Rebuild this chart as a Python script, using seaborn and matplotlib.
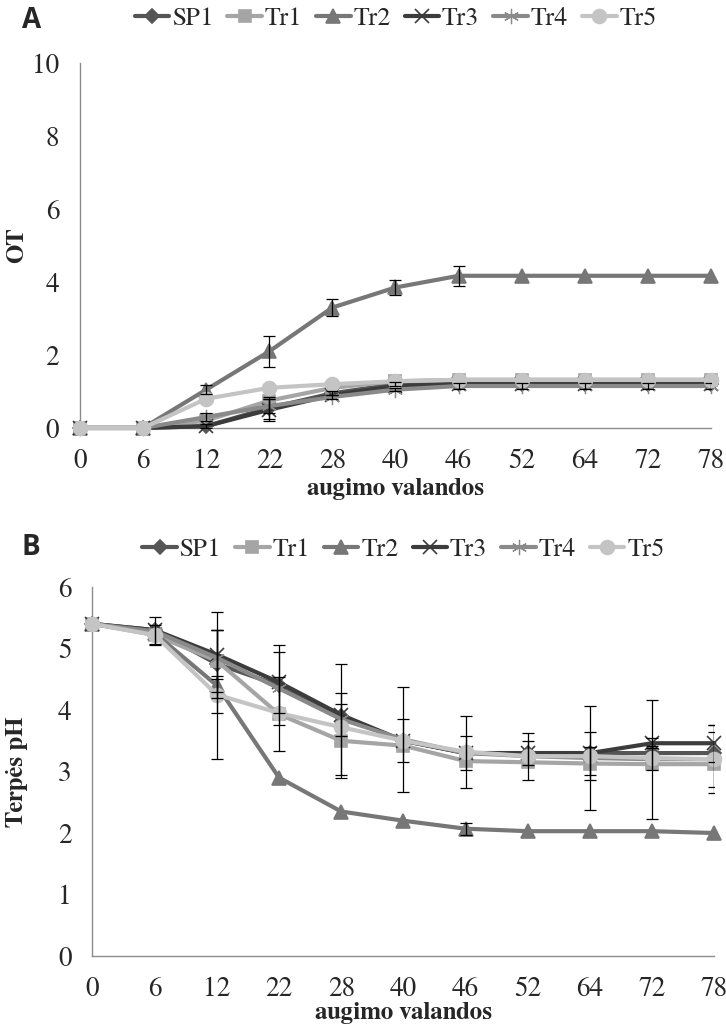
import numpy as np
import pandas as pd
import matplotlib
matplotlib.use("Agg")
import matplotlib.pyplot as plt
import seaborn as sns

# Sampling times (hours) shown as evenly spaced categories
hours = ["0", "6", "12", "22", "28", "40", "46", "52", "64", "72", "78"]
series = ["SP1", "Tr1", "Tr2", "Tr3", "Tr4", "Tr5"]

# Panel A: titratable acidity (OT)
sp1_ot = [0, 0, 0.05, 0.55, 0.95, 1.20, 1.20, 1.20, 1.20, 1.20, 1.20]
tr1_ot = [0, 0, 0.20, 0.75, 1.10, 1.28, 1.32, 1.32, 1.32, 1.32, 1.32]
tr2_ot = [0, 0, 1.05, 2.10, 3.30, 3.85, 4.17, 4.17, 4.17, 4.17, 4.17]
tr3_ot = [0, 0, 0.05, 0.50, 0.90, 1.15, 1.20, 1.20, 1.20, 1.20, 1.20]
tr4_ot = [0, 0, 0.30, 0.60, 0.85, 1.05, 1.15, 1.15, 1.15, 1.15, 1.15]
tr5_ot = [0, 0, 0.80, 1.10, 1.20, 1.28, 1.32, 1.32, 1.32, 1.32, 1.32]

sp1_ot_err = [0, 0, 0, 0.30, 0.05, 0.05, 0, 0, 0, 0, 0]
tr1_ot_err = [0, 0, 0, 0, 0, 0, 0, 0, 0, 0, 0]
tr2_ot_err = [0, 0, 0.12, 0.42, 0.23, 0.21, 0.27, 0, 0, 0, 0]
tr3_ot_err = [0, 0, 0.05, 0.30, 0, 0, 0, 0, 0, 0, 0]
tr4_ot_err = [0, 0, 0.10, 0.20, 0.05, 0.05, 0.07, 0.07, 0.07, 0.07, 0.07]
tr5_ot_err = [0, 0, 0, 0, 0, 0, 0, 0, 0, 0, 0]

# Panel B: pH
sp1_ph = [5.40, 5.30, 4.75, 4.40, 3.90, 3.50, 3.30, 3.30, 3.30, 3.30, 3.30]
tr1_ph = [5.40, 5.22, 4.80, 3.93, 3.50, 3.42, 3.17, 3.15, 3.13, 3.12, 3.12]
tr2_ph = [5.40, 5.25, 4.40, 2.90, 2.35, 2.20, 2.07, 2.03, 2.03, 2.03, 2.00]
tr3_ph = [5.40, 5.30, 4.90, 4.45, 3.92, 3.50, 3.30, 3.30, 3.30, 3.46, 3.46]
tr4_ph = [5.40, 5.28, 4.85, 4.35, 3.85, 3.52, 3.30, 3.25, 3.22, 3.20, 3.20]
tr5_ph = [5.40, 5.22, 4.25, 3.95, 3.72, 3.50, 3.32, 3.25, 3.25, 3.22, 3.20]

sp1_ph_err = [0, 0.22, 0.55, 0.65, 0, 0.35, 0, 0.20, 0, 0, 0]
tr1_ph_err = [0, 0, 0.50, 0.60, 0.60, 0, 0, 0, 0.27, 0, 0]
tr2_ph_err = [0, 0, 1.20, 0, 0, 0, 0.10, 0, 0, 0, 0]
tr3_ph_err = [0, 0, 0.40, 0.50, 0.35, 0, 0, 0, 0.35, 0.08, 0.30]
tr4_ph_err = [0, 0, 0, 0, 0.90, 0.85, 0.28, 0.38, 0.85, 0.97, 0.55]
tr5_ph_err = [0, 0.17, 0.30, 0, 0, 0, 0.58, 0, 0, 0.20, 0.45]

colors = {"SP1": "#555555", "Tr1": "#a5a5a5", "Tr2": "#777777",
          "Tr3": "#3c3c3c", "Tr4": "#8a8a8a", "Tr5": "#c4c4c4"}
markers = {"SP1": "D", "Tr1": "s", "Tr2": "^", "Tr3": "x",
           "Tr4": (6, 2, 0), "Tr5": "o"}
msizes = {"SP1": 7, "Tr1": 9, "Tr2": 10, "Tr3": 10, "Tr4": 11, "Tr5": 10}
medges = {"SP1": 1.2, "Tr1": 1.2, "Tr2": 1.2, "Tr3": 1.2, "Tr4": 0.9, "Tr5": 1.2}

sns.set_style("white")
plt.rcParams["font.family"] = "serif"
plt.rcParams["font.serif"] = ["FreeSerif", "Liberation Serif", "DejaVu Serif"]

fig = plt.figure(figsize=(7.26, 10.30), dpi=100)
ax_a = fig.add_axes([0.1102, 0.5845, 0.8691, 0.3543])
ax_b = fig.add_axes([0.1274, 0.0718, 0.8565, 0.3583])

pos = np.arange(len(hours))
axis_grey = "#8c8c8c"


def draw_panel(ax, values, errors, ylabel, ymax, ystep, legend_y):
    for name in series:
        df = pd.DataFrame({"x": pos, "y": values[name]})
        sns.lineplot(data=df, x="x", y="y", ax=ax, color=colors[name],
                     linewidth=3.0, marker=markers[name], markersize=msizes[name],
                     markeredgecolor=colors[name], markeredgewidth=medges[name],
                     label=name, clip_on=False, zorder=3, errorbar=None)
    for name in series:
        err = np.array(errors[name])
        mask = err > 0
        if mask.any():
            ax.errorbar(pos[mask], np.array(values[name])[mask], yerr=err[mask],
                        fmt="none", ecolor="black", elinewidth=0.9,
                        capsize=4, capthick=0.9, zorder=4)
    ax.set_xlim(0, len(hours) - 1)
    ax.set_ylim(0, ymax)
    ax.set_xticks(pos)
    ax.set_xticklabels(hours)
    ax.set_yticks(np.arange(0, ymax + 0.1, ystep))
    ax.tick_params(axis="both", direction="out", length=6, width=1,
                   color=axis_grey, labelsize=19.5, pad=9)
    for side in ["top", "right"]:
        ax.spines[side].set_visible(False)
    for side in ["left", "bottom"]:
        ax.spines[side].set_color(axis_grey)
        ax.spines[side].set_linewidth(1.0)
    ax.set_ylabel(ylabel, fontsize=18, fontweight="bold")
    ax.legend(loc="lower center", bbox_to_anchor=(0.5, legend_y), ncol=6,
              frameon=False, fontsize=18.5, handlelength=1.35,
              handletextpad=0.1, columnspacing=0.55, borderaxespad=0)


draw_panel(ax_a,
           {"SP1": sp1_ot, "Tr1": tr1_ot, "Tr2": tr2_ot,
            "Tr3": tr3_ot, "Tr4": tr4_ot, "Tr5": tr5_ot},
           {"SP1": sp1_ot_err, "Tr1": tr1_ot_err, "Tr2": tr2_ot_err,
            "Tr3": tr3_ot_err, "Tr4": tr4_ot_err, "Tr5": tr5_ot_err},
           "OT", 10, 2, 1.06)
ax_a.set_xlabel("augimo valandos", fontsize=18, fontweight="bold", labelpad=3)
ax_a.yaxis.set_label_coords(-0.082, 0.5)

draw_panel(ax_b,
           {"SP1": sp1_ph, "Tr1": tr1_ph, "Tr2": tr2_ph,
            "Tr3": tr3_ph, "Tr4": tr4_ph, "Tr5": tr5_ph},
           {"SP1": sp1_ph_err, "Tr1": tr1_ph_err, "Tr2": tr2_ph_err,
            "Tr3": tr3_ph_err, "Tr4": tr4_ph_err, "Tr5": tr5_ph_err},
           "Terpės pH", 6, 1, 1.04)
ax_b.set_xlabel("augimo valandos", fontsize=18, fontweight="bold", labelpad=0)
ax_b.yaxis.set_label_coords(-0.103, 0.5)

fig.text(0.03, 0.980, "A", fontsize=20, fontweight="bold",
         family="Open Sans", va="center", ha="left")
fig.text(0.03, 0.468, "B", fontsize=20, fontweight="bold",
         family="Open Sans", va="center", ha="left")

fig.savefig("out.png", dpi=100)
